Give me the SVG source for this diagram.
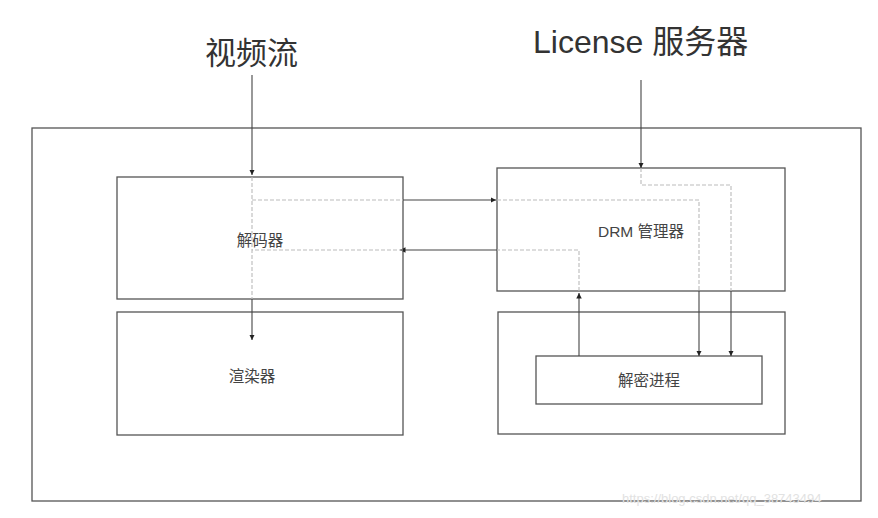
<svg xmlns="http://www.w3.org/2000/svg" width="878" height="518" viewBox="0 0 878 518">
<style>
.box{fill:none;stroke:#555;stroke-width:1.3}
.solid{fill:none;stroke:#444;stroke-width:1.1}
.dash{fill:none;stroke:#bbb;stroke-width:1.1;stroke-dasharray:4 2}
.lbl{font-family:"Liberation Sans","Noto Sans CJK SC",sans-serif;fill:#444;font-size:15.5px;text-anchor:middle}
.big{font-family:"Liberation Sans","Noto Sans CJK SC",sans-serif;fill:#333}
.wm{font-family:"Liberation Sans",sans-serif;font-size:13px;fill:#e2e2e2}
</style>
<defs>
<marker id="ah" viewBox="0 0 10 10" refX="10" refY="5" markerWidth="5" markerHeight="5" orient="auto">
<path d="M0,0 L10,5 L0,10 z" fill="#222"/>
</marker>
</defs>
<rect x="0" y="0" width="878" height="518" fill="#fff"/>
<g id="outer"><rect class="box" x="32" y="128" width="829" height="373"/></g>
<g id="decoder"><rect class="box" x="117" y="177" width="286" height="122"/><text class="lbl" x="260" y="246">解码器</text></g>
<g id="renderer"><rect class="box" x="117" y="312" width="286" height="123"/><text class="lbl" x="252" y="382">渲染器</text></g>
<g id="drm"><rect class="box" x="497" y="168" width="288" height="123"/><text class="lbl" x="641" y="237" font-size="16">DRM 管理器</text></g>
<g id="lowerbox"><rect class="box" x="498" y="312" width="287" height="122"/></g>
<g id="decrypt"><rect class="box" x="536" y="356" width="226" height="48"/><text class="lbl" x="649" y="386" font-size="16">解密进程</text></g>
<g id="video"><text class="big" x="205" y="64" font-size="31">视频流</text></g>
<g id="license"><text class="big" x="533" y="53" font-size="32">License 服务器</text></g>
<g id="connectors">
<line class="solid" x1="252" y1="75" x2="252" y2="175" marker-end="url(#ah)"/>
<line class="dash" x1="252" y1="177" x2="252" y2="299"/>
<line class="solid" x1="252" y1="299" x2="252" y2="340" marker-end="url(#ah)"/>
<line class="dash" x1="252" y1="200" x2="403" y2="200"/>
<line class="solid" x1="403" y1="200" x2="496" y2="200" marker-end="url(#ah)"/>
<polyline class="dash" points="497,200 699,200 699,291"/>
<line class="solid" x1="699" y1="291" x2="699" y2="356" marker-end="url(#ah)"/>
<line class="solid" x1="641" y1="80" x2="641" y2="168" marker-end="url(#ah)"/>
<polyline class="dash" points="641,168 641,185 731,185 731,291"/>
<line class="solid" x1="731" y1="291" x2="731" y2="356" marker-end="url(#ah)"/>
<line class="solid" x1="579" y1="356" x2="579" y2="293" marker-end="url(#ah)"/>
<polyline class="dash" points="579,291 579,250 497,250"/>
<line class="solid" x1="497" y1="250" x2="400" y2="250" marker-end="url(#ah)"/>
<line class="dash" x1="403" y1="250" x2="252" y2="250"/>
</g>
<text class="wm" x="622" y="503">https://blog.csdn.net/qq_38743494</text>
</svg>
